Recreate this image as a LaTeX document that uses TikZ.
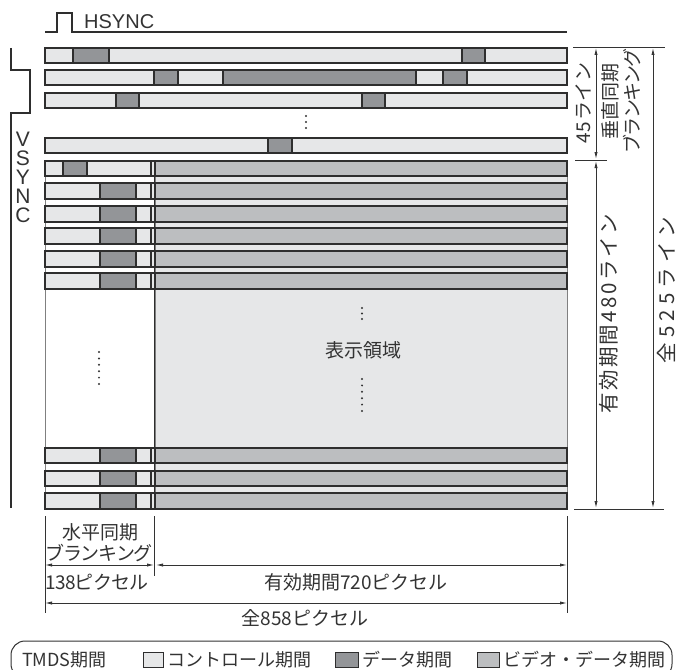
\documentclass[tikz,border=0pt]{standalone}
\usepackage{fontspec}
\setmainfont{Noto Sans CJK JP}
\newfontfamily\latinfont{Liberation Sans}
\usetikzlibrary{arrows.meta}
\definecolor{ctrlc}{HTML}{E6E7E8}
\definecolor{datac}{HTML}{939598}
\definecolor{vidc}{HTML}{BCBEC0}
\definecolor{edgec}{HTML}{2E2E2E}
\definecolor{txtc}{HTML}{333333}
\begin{document}
\begin{tikzpicture}[x=1pt,y=-1pt,
  ctrl/.style={fill=ctrlc,draw=edgec,line width=1.1pt},
  datab/.style={fill=datac,draw=edgec,line width=1.1pt},
  vid/.style={fill=vidc,draw=edgec,line width=1.1pt},
  dim/.style={line width=0.8pt, draw=txtc},
  dimarrow/.style={dim,{Latex[length=7pt,width=3.2pt]}-{Latex[length=7pt,width=3.2pt]}},
  lbl/.style={font=\fontsize{19}{19}\selectfont, text=txtc, inner sep=0pt},
  leg/.style={font=\fontsize{18}{18}\selectfont, text=txtc, inner sep=0pt, anchor=west},
  vlbl/.style={lbl, rotate=90},
  vbig/.style={vlbl, font=\fontsize{20.5}{20.5}\selectfont},
  dotm/.style={fill=txtc}
]
\useasboundingbox (0,0) rectangle (677,669);

% HSYNC
\draw[edgec, line width=1.2pt] (45,32) -- (57,32) -- (57,13) -- (72,13) -- (72,32) -- (567,32);
\node[lbl, font=\latinfont\fontsize{20}{20}\selectfont, anchor=west] (hs) at (84,22) {HSYNC};

% VSYNC
\draw[edgec, line width=1.2pt] (11,48) -- (11,70) -- (30,70) -- (30,113) -- (11,113) -- (11,508);
\node[lbl, font=\latinfont\fontsize{21}{19}\selectfont, align=center] (vs) at (23,177.5) {V\\S\\Y\\N\\C};

% vertical blanking rows
\draw[ctrl] (45,48) rectangle (567,63);
\draw[datab] (73,48) rectangle (109,63);
\draw[datab] (462,48) rectangle (485,63);

\draw[ctrl] (45,70) rectangle (567,85);
\draw[datab] (154,70) rectangle (178,85);
\draw[datab] (223,70) rectangle (416,85);
\draw[datab] (443,70) rectangle (467,85);

\draw[ctrl] (45,93) rectangle (567,108);
\draw[datab] (116,93) rectangle (139,108);
\draw[datab] (362,93) rectangle (385,108);

\foreach \yy in {116,122,128} \fill[dotm] (306,\yy) circle (1.1);

\draw[ctrl] (45,138) rectangle (567,153);
\draw[datab] (268,138) rectangle (292,153);

% active region background
\fill[ctrlc] (155,161) rectangle (567,509);
\draw[gray, line width=1pt] (155,161) rectangle (567,509);
\draw[gray, line width=1pt] (45,161) -- (45,509);

% active rows
\foreach \a/\b/\da/\db in {161/176/63/87, 183/199/100/136, 206/222/100/136, 228/244/100/136,
  251/267/100/136, 273/289/100/136, 448/463/100/136, 471/486/100/136, 493/509/100/136} {
  \draw[ctrl] (45,\a) rectangle (151,\b);
  \draw[datab] (\da,\a) rectangle (\db,\b);
  \draw[ctrl] (151,\a) rectangle (155,\b);
  \draw[vid] (155,\a) rectangle (567,\b);
}
\draw[edgec, line width=1.1pt] (154.5,161) -- (154.5,509);

% dots and display area label
\foreach \yy in {352,358.4,364.8,371.2,377.6,384} \fill[dotm] (99,\yy) circle (1.1);
\foreach \yy in {308,313.5,319} \fill[dotm] (362,\yy) circle (1.1);
\foreach \yy in {379,385.4,391.8,398.2,404.6,411} \fill[dotm] (362,\yy) circle (1.1);
\node[lbl] (disp) at (363,350) {表示領域};

% right dimensions
\draw[dim] (573,47) -- (665,47);
\draw[dim] (575,160) -- (607,160);
\draw[dim] (574,509) -- (664,509);
\draw[dimarrow] (596,48) -- (596,159);
\draw[dimarrow] (596,161) -- (596,508);
\draw[dimarrow] (653,48) -- (653,508);
\node[vlbl] (l45) at (583,103) {\addfontfeatures{LetterSpace=5}45ライン};
\node[vlbl] (lvs) at (610,101) {垂直同期};
\node[vlbl] (lvb) at (632,101) {\addfontfeatures{LetterSpace=-8}ブランキング};
\node[vbig] (l480) at (609,314) {\addfontfeatures{LetterSpace=12}有効期間480ライン};
\node[vbig] (l525) at (666,290) {\addfontfeatures{LetterSpace=25}全525ライン};

% bottom dimensions
\draw[dim] (45,516) -- (45,613);
\draw[dim] (154.5,516) -- (154.5,576);
\draw[dim] (567,516) -- (567,613);
\draw[dimarrow] (45,565) -- (154,565);
\draw[dimarrow] (156,565) -- (567,565);
\draw[dimarrow] (45,603) -- (567,603);
\node[lbl] (hb1) at (100,532) {水平同期};
\node[lbl] (hb2) at (99,553) {\addfontfeatures{LetterSpace=-6}ブランキング};
\node[lbl] (p138) at (97,582) {\addfontfeatures{LetterSpace=-4}138ピクセル};
\node[lbl] (p720) at (356,582) {有効期間720ピクセル};
\node[lbl] (p858) at (305,618) {全858ピクセル};

% legend
\begin{scope}
\clip (0,0) rectangle (677,669);
\draw[txtc, line width=1pt, rounded corners=14pt] (11,641) rectangle (672,678);
\end{scope}
\node[leg] (lt) at (22,660) {TMDS期間};
\draw[ctrl, line width=0.9pt] (143,652) rectangle (163,667);
\node[leg] (lc) at (167,660) {コントロール期間};
\draw[datab, line width=0.9pt] (335,652) rectangle (358,667);
\node[leg] (ld) at (362,660) {データ期間};
\draw[vid, line width=0.9pt] (477,652) rectangle (499,667);
\node[leg] (lv) at (503,660) {ビデオ・データ期間};
\end{tikzpicture}
\end{document}
